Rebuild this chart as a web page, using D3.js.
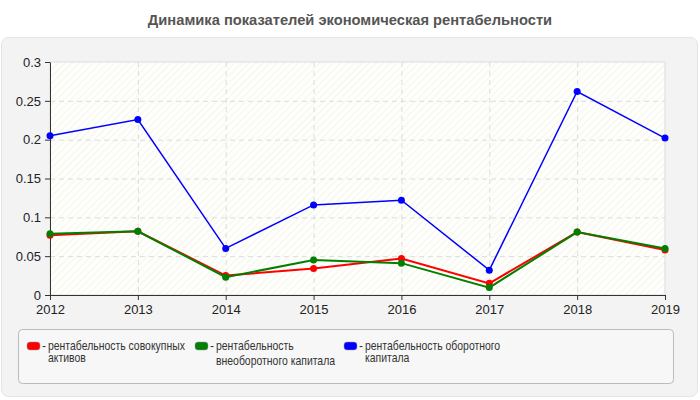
<!DOCTYPE html>
<html><head><meta charset="utf-8">
<script src="https://cdn.jsdelivr.net/npm/d3@7"></script>
<style>body{margin:0;background:#fff;font-family:Arial,"Liberation Sans",sans-serif;}</style>
</head><body>
<svg id="c" width="700" height="400"></svg>
<script>
const years = ["2012","2013","2014","2015","2016","2017","2018","2019"];
const seriesNames = ["рентабельность совокупных активов","рентабельность внеоборотного капитала","рентабельность оборотного капитала"];
const seriesColors = ["#ff0000","#008000","#0000ff"];
const redValues = [0.077,0.082,0.025,0.034,0.047,0.015,0.081,0.058];
const greenValues = [0.079,0.082,0.023,0.045,0.041,0.0095,0.081,0.060];
const blueValues = [0.205,0.226,0.060,0.116,0.122,0.032,0.262,0.202];
const yTicks = [0,0.05,0.1,0.15,0.2,0.25,0.3];
const yTickLabels = ["0","0.05","0.1","0.15","0.2","0.25","0.3"];

const svg = d3.select("#c");
const defs = svg.append("defs");
const pat = defs.append("pattern").attr("id","hatch").attr("patternUnits","userSpaceOnUse")
  .attr("width",5).attr("height",5).attr("patternTransform","rotate(45)");
pat.append("rect").attr("width",5).attr("height",5).attr("fill","#fefefa");
pat.append("line").attr("x1",0).attr("y1",0).attr("x2",0).attr("y2",5).attr("stroke","#f1f1ee").attr("stroke-width",1.5);

svg.append("text").attr("x",350).attr("y",25).attr("text-anchor","middle")
  .attr("font-size",14.7).attr("font-weight","bold").attr("fill","#555")
  .text("Динамика показателей экономическая рентабельности");

svg.append("rect").attr("x",1.5).attr("y",37.5).attr("width",696).attr("height",359).attr("rx",7)
  .attr("fill","#f3f3f3").attr("stroke","#e4e4e4");

const L=50,R=665,T=62,B=295;
const x = d3.scalePoint().domain(years).range([L,R]);
const y = d3.scaleLinear().domain([0,0.3]).range([B,T]);

svg.append("rect").attr("x",L).attr("y",T).attr("width",R-L).attr("height",B-T).attr("fill","url(#hatch)")
  .attr("stroke","#dddddd");

// grid
svg.append("g").selectAll("line").data(yTicks.slice(1,-1)).join("line")
  .attr("x1",L).attr("x2",R).attr("y1",d=>y(d)+0.5).attr("y2",d=>y(d)+0.5)
  .attr("stroke","#dcdcdc").attr("stroke-dasharray","5,4");
svg.append("g").selectAll("line").data(years.slice(1,-1)).join("line")
  .attr("y1",T).attr("y2",B).attr("x1",d=>x(d)+0.5).attr("x2",d=>x(d)+0.5)
  .attr("stroke","#dcdcdc").attr("stroke-dasharray","5,4");

const xAxis = svg.append("g").attr("transform",`translate(0,${B})`)
  .call(d3.axisBottom(x).tickSize(5).tickSizeOuter(0));
const yAxis = svg.append("g").attr("transform",`translate(${L},0)`)
  .call(d3.axisLeft(y).tickValues(yTicks).tickFormat((d,i)=>yTickLabels[i]).tickSize(5).tickSizeOuter(0));
[xAxis,yAxis].forEach(a=>{
  a.selectAll("path").attr("stroke","#333");
  a.selectAll("line").attr("stroke","#333");
  a.selectAll("text").attr("font-size",13).attr("fill","#222").attr("font-family","Arial,'Liberation Sans',sans-serif");
});
xAxis.selectAll("text").attr("dy","0.85em");
yAxis.selectAll("text").attr("dx","-1px");

const all = [redValues,greenValues,blueValues];
const line = d3.line().x((d,i)=>x(years[i])).y(d=>y(d));
all.forEach((vals,k)=>{
  const g = svg.append("g");
  g.append("path").datum(vals).attr("d",line).attr("fill","none")
    .attr("stroke",seriesColors[k]).attr("stroke-width",k===2?1.5:2);
  g.selectAll("circle").data(vals).join("circle")
    .attr("cx",(d,i)=>x(years[i])).attr("cy",d=>y(d)).attr("r",3.5).attr("fill",seriesColors[k]);
});

// legend
svg.append("rect").attr("x",18.5).attr("y",329.5).attr("width",655).attr("height",54).attr("rx",4)
  .attr("fill","#f7f7f7").attr("stroke","#bbbbbb");
const legX = [27,195,344];
const legLines = [["рентабельность совокупных","активов"],["рентабельность","внеоборотного капитала"],["рентабельность оборотного","капитала"]];
legX.forEach((lx,k)=>{
  svg.append("rect").attr("x",lx).attr("y",342).attr("width",13).attr("height",8).attr("rx",3)
    .attr("fill",seriesColors[k]).attr("stroke","#999").attr("stroke-width",0.5);
  svg.append("text").attr("x",lx+15).attr("y",350).attr("font-size",12).attr("fill","#333").text("-");
  const g = svg.append("g").attr("transform",`translate(${lx+21},349.5) scale(0.87,1)`);
  const t = g.append("text").attr("x",0).attr("y",0).attr("font-size",12).attr("fill","#333");
  legLines[k].forEach((s,j)=>{
    t.append("tspan").attr("x",0).attr("dy",j===0?0:(k===1?16:12.5)).text(s);
  });
});
</script>
</body></html>
